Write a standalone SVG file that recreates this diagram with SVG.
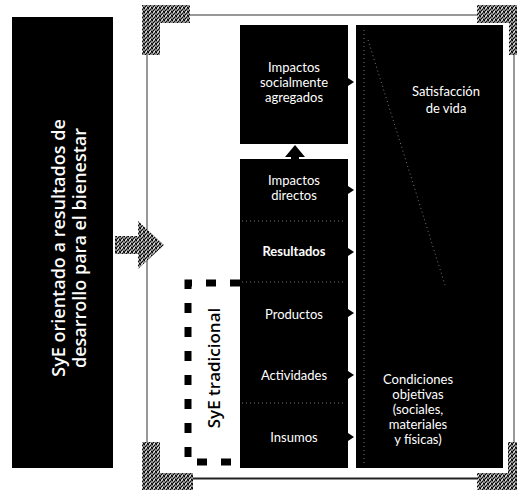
<svg xmlns="http://www.w3.org/2000/svg" width="517" height="495" viewBox="0 0 517 495">
  <defs>
    <pattern id="stip" width="4" height="4" patternUnits="userSpaceOnUse">
      <rect width="4" height="4" fill="#8a8a8a"/>
      <rect x="0" y="0" width="1" height="1" fill="#000"/>
      <rect x="2" y="1" width="1" height="1" fill="#111"/>
      <rect x="1" y="2" width="1" height="1" fill="#000"/>
      <rect x="3" y="3" width="1" height="1" fill="#000"/>
      <rect x="3" y="0" width="1" height="1" fill="#333"/>
      <rect x="0" y="3" width="1" height="1" fill="#222"/>
      <rect x="1" y="0" width="1" height="1" fill="#ddd"/>
      <rect x="2" y="3" width="1" height="1" fill="#eee"/>
    </pattern>
    <style>
      .box { fill: #000; }
      .lbl { font-family: Lato, "Open Sans", sans-serif; font-size: 13px; fill: #fff; text-anchor: middle; }
      .vert { font-family: "Open Sans", "DejaVu Sans", sans-serif; font-size: 18px; font-weight: 600; fill: #fff; text-anchor: middle; }
      .vert2 { font-family: "Open Sans", "DejaVu Sans", sans-serif; font-size: 17px; font-weight: 600; fill: #000; text-anchor: middle; }
      .brk { fill: url(#stip); }
      .frame { stroke: #333; stroke-width: 1; fill: none; }
      .dots { stroke: #777; stroke-width: 1; stroke-dasharray: 1 3; fill: none; }
      .tip { fill: #000; }
    </style>
  </defs>
  <rect width="517" height="495" fill="#fff"/>

  <g id="frame">
    <line class="frame" x1="147" y1="55" x2="147" y2="442"/>
    <line class="frame" x1="190" y1="15" x2="477" y2="15"/>
    <line class="frame" x1="514" y1="55" x2="514" y2="442"/>
    <line x1="193" y1="478.5" x2="477" y2="478.5" stroke="#222" stroke-width="2"/>
    <path class="brk" d="M142,5 H190 V23 H160 V55 H142 Z"/>
    <path class="brk" d="M477,5 H517 V55 H509 V23 H477 Z"/>
    <path class="brk" d="M142,442 H160 V473 H193 V490 H142 Z"/>
    <path class="brk" d="M508,442 H517 V490 H477 V473 H508 Z"/>
  </g>

  <g id="left-title">
    <rect class="box" x="12" y="17" width="101" height="451"/>
    <text class="vert" transform="translate(65,248) rotate(-90)">SyE orientado a resultados de</text>
    <text class="vert" transform="translate(86,248) rotate(-90)">desarrollo para el bienestar</text>
  </g>

  <g id="impactos-agregados">
    <rect class="box" x="240" y="25" width="108" height="119"/>
    <text class="lbl" x="294" y="72">Impactos</text>
    <text class="lbl" x="294" y="87">socialmente</text>
    <text class="lbl" x="294" y="102">agregados</text>
  </g>

  <g id="cadena">
    <rect class="box" x="240" y="159" width="108" height="309"/>
    <line class="dots" x1="242" y1="221" x2="346" y2="221"/>
    <line class="dots" x1="242" y1="282" x2="346" y2="282"/>
    <line class="dots" x1="242" y1="403" x2="346" y2="403"/>
    <text class="lbl" x="294" y="185">Impactos</text>
    <text class="lbl" x="294" y="200">directos</text>
    <text class="lbl" x="294" y="256" font-weight="bold">Resultados</text>
    <text class="lbl" x="294" y="319">Productos</text>
    <text class="lbl" x="294" y="380">Actividades</text>
    <text class="lbl" x="294" y="442">Insumos</text>
  </g>

  <g id="bienestar">
    <rect class="box" x="356" y="25" width="147" height="443"/>
    <line class="dots" x1="364" y1="30" x2="364" y2="464"/>
    <line class="dots" x1="368" y1="40" x2="445" y2="285"/>
    <text class="lbl" x="446" y="96">Satisfacción</text>
    <text class="lbl" x="446" y="113">de vida</text>
    <text class="lbl" x="418" y="384">Condiciones</text>
    <text class="lbl" x="418" y="399">objetivas</text>
    <text class="lbl" x="418" y="414">(sociales,</text>
    <text class="lbl" x="418" y="429">materiales</text>
    <text class="lbl" x="418" y="444">y físicas)</text>
  </g>

  <g id="syE-tradicional">
    <path d="M240,283 H188 V462 H240" fill="none" stroke="#000" stroke-width="7" stroke-dasharray="10 14"/>
    <text class="vert2" transform="translate(220,368) rotate(-90)">SyE tradicional</text>
  </g>

  <g id="connectors">
    <path d="M115,236 H138 V221 L164,245 L138,269 V254 H115 Z" fill="url(#stip)"/>
    <path class="tip" d="M285,157 L295,145 L305,157 H299 V160 H291 V157 Z"/>
    <path class="tip" d="M348,78 L354,82 L348,86 Z"/>
    <path class="tip" d="M348,186 L354,190 L348,194 Z"/>
    <path class="tip" d="M348,248 L354,252 L348,256 Z"/>
    <path class="tip" d="M348,309 L354,313 L348,317 Z"/>
    <path class="tip" d="M348,371 L354,375 L348,379 Z"/>
    <path class="tip" d="M348,433 L354,437 L348,441 Z"/>
  </g>
</svg>
